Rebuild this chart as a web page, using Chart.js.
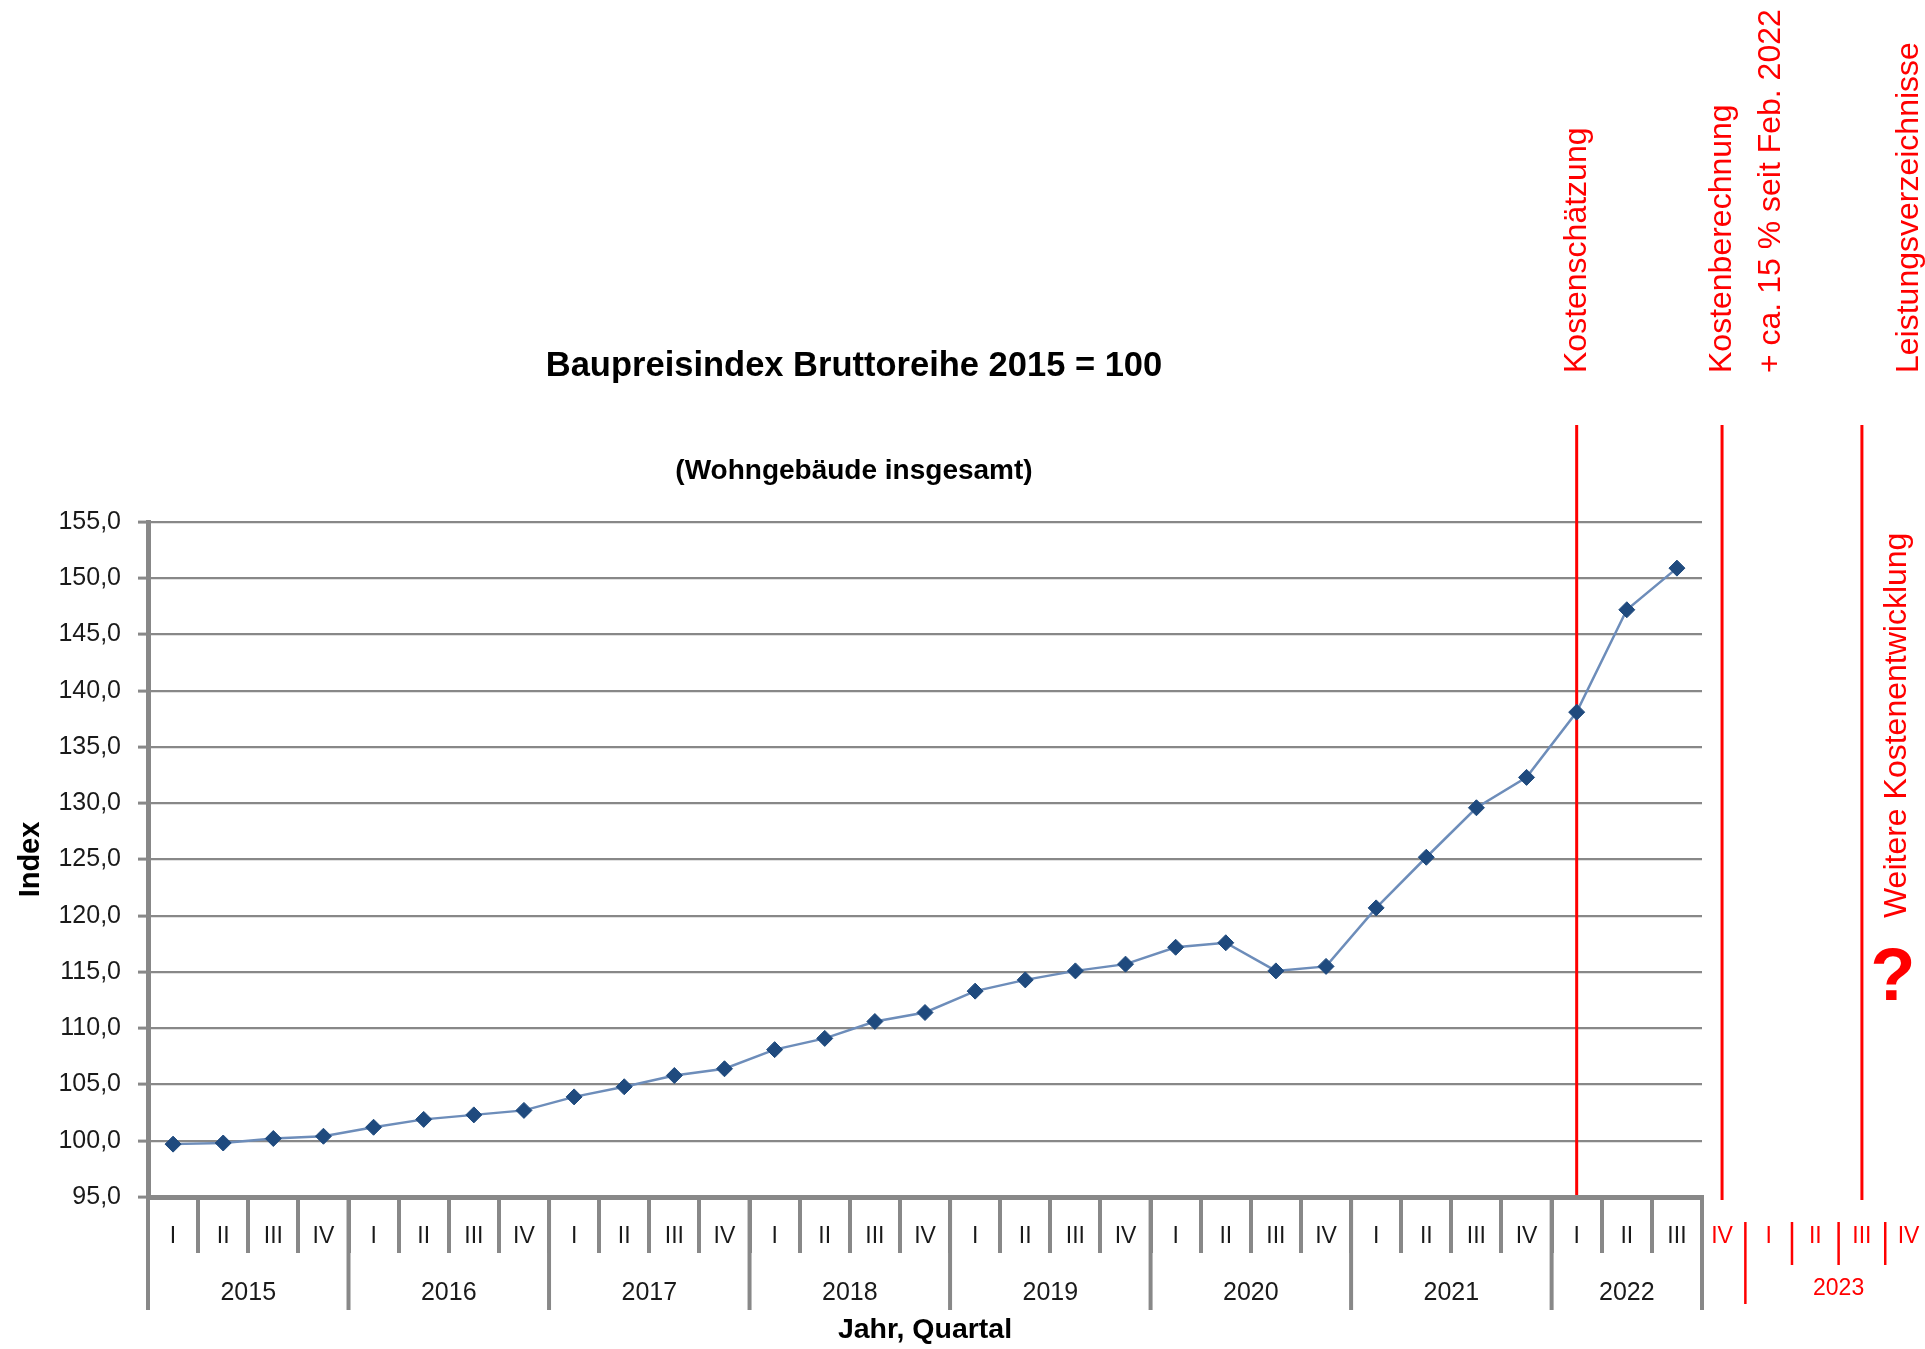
<!DOCTYPE html>
<html>
<head>
<meta charset="utf-8">
<script src="https://cdn.jsdelivr.net/npm/chart.js@4.4.1/dist/chart.umd.min.js"></script>
<style>
  html, body { margin: 0; padding: 0; background: #ffffff; }
  #wrap { width: 1925px; height: 1349px; position: relative; }
</style>
</head>
<body>
<div id="wrap"><canvas id="c"></canvas></div>
<script>
// ---------- data ----------
const quarterLabels = [
  'I','II','III','IV', 'I','II','III','IV', 'I','II','III','IV', 'I','II','III','IV',
  'I','II','III','IV', 'I','II','III','IV', 'I','II','III','IV', 'I','II','III'
];
const yearLabels = ['2015','2016','2017','2018','2019','2020','2021','2022'];
const quartersPerYear = [4, 4, 4, 4, 4, 4, 4, 3];
const indexValues = [
  99.7, 99.8, 100.2, 100.4,
  101.2, 101.9, 102.3, 102.7,
  103.9, 104.8, 105.8, 106.4,
  108.1, 109.1, 110.6, 111.4,
  113.3, 114.3, 115.1, 115.7,
  117.2, 117.6, 115.1, 115.5,
  120.7, 125.2, 129.6, 132.3,
  138.1, 147.2, 150.9
];
const yTickValues = [95, 100, 105, 110, 115, 120, 125, 130, 135, 140, 145, 150, 155];
const forecastQuarterLabels = ['IV', 'I', 'II', 'III', 'IV'];
const forecastYearLabel = '2023';
const titleText = 'Baupreisindex Bruttoreihe 2015 = 100';
const subtitleText = '(Wohngebäude insgesamt)';
const milestoneTexts = ['Kostenschätzung', 'Kostenberechnung', '+ ca. 15 % seit Feb. 2022', 'Leistungsverzeichnisse'];
const outlookText = 'Weitere Kostenentwicklung';

// ---------- styling ----------
const GREY = '#888888';
const RED = '#ff0000';
const TXT = '#1a1a1a';
const FONT = "'Liberation Sans', Arial, sans-serif";

const fmt = v => v.toFixed(1).replace('.', ',');

// forecast slots (2022 IV .. 2023 IV) are drawn a bit narrower than the real quarters
const FC_START = 30.9, FC_STEP = 0.93;
const fcPos = k => FC_START + FC_STEP * k;

const decorPlugin = {
  id: 'decor',
  beforeDatasetsDraw(chart) {
    const ctx = chart.ctx, x = chart.scales.x, y = chart.scales.y;
    const ca = chart.chartArea;
    const lineTop = ca.top - 97;
    const axisY = y.getPixelForValue(95);
    ctx.save();
    ctx.strokeStyle = RED;
    ctx.lineWidth = 3;
    [28, fcPos(0), fcPos(3)].forEach((v, i) => {
      const px = x.getPixelForValue(v);
      ctx.beginPath();
      ctx.moveTo(px, lineTop);
      ctx.lineTo(px, axisY + (i === 0 ? -2 : 3));
      ctx.stroke();
    });
    ctx.restore();
  },
  afterDraw(chart) {
    const ctx = chart.ctx, x = chart.scales.x, y = chart.scales.y;
    const ca = chart.chartArea;
    const axisY = y.getPixelForValue(95);
    ctx.save();

    // year separators and year labels
    ctx.strokeStyle = GREY;
    ctx.lineWidth = 4;
    let b = -0.5;
    const bounds = [b];
    quartersPerYear.forEach(n => { b += n; bounds.push(b); });
    bounds.forEach(v => {
      const px = x.getPixelForValue(v);
      ctx.beginPath();
      ctx.moveTo(px, axisY + 2);
      ctx.lineTo(px, axisY + 113);
      ctx.stroke();
    });
    ctx.fillStyle = TXT;
    ctx.font = '25px ' + FONT;
    ctx.textAlign = 'center';
    ctx.textBaseline = 'middle';
    yearLabels.forEach((lab, i) => {
      const mid = (bounds[i] + bounds[i + 1]) / 2;
      ctx.fillText(lab, x.getPixelForValue(mid), axisY + 96);
    });

    // forecast quarter labels (red)
    ctx.fillStyle = RED;
    ctx.strokeStyle = RED;
    ctx.font = '23px ' + FONT;
    forecastQuarterLabels.forEach((lab, k) => {
      ctx.fillText(lab, x.getPixelForValue(fcPos(k)), axisY + 40);
    });
    ctx.lineWidth = 2.5;
    for (let k = 0; k < 4; k++) {
      const px = x.getPixelForValue(fcPos(k + 0.5));
      ctx.beginPath();
      ctx.moveTo(px, axisY + 25);
      ctx.lineTo(px, axisY + (k === 0 ? 107 : 68));
      ctx.stroke();
    }
    ctx.font = '23px ' + FONT;
    ctx.fillText(forecastYearLabel, x.getPixelForValue(fcPos(2.5)), axisY + 92);

    // rotated milestone texts
    const textBottom = ca.top - 149;
    const rot = (txt, px, py, font) => {
      ctx.save();
      ctx.translate(px, py);
      ctx.rotate(-Math.PI / 2);
      ctx.font = font;
      ctx.textAlign = 'left';
      ctx.textBaseline = 'middle';
      ctx.fillText(txt, 0, 0);
      ctx.restore();
    };
    const red32 = '32px ' + FONT;
    const p1 = x.getPixelForValue(28), p2 = x.getPixelForValue(fcPos(0)), p3 = x.getPixelForValue(fcPos(3));
    rot(milestoneTexts[0], p1, textBottom, red32);
    rot(milestoneTexts[1], p2, textBottom, red32);
    rot(milestoneTexts[2], p2 + 49, textBottom, red32);
    rot(milestoneTexts[3], p3 + 47, textBottom, red32);
    rot(outlookText, p3 + 35, ca.top + 396, red32);
    ctx.font = 'bold 74px ' + FONT;
    ctx.textAlign = 'center';
    ctx.textBaseline = 'alphabetic';
    ctx.fillText('?', p3 + 31, ca.top + 478);

    // titles
    ctx.fillStyle = '#000';
    ctx.textAlign = 'center';
    ctx.textBaseline = 'middle';
    ctx.font = 'bold 34.5px ' + FONT;
    ctx.fillText(titleText, 854, ca.top - 156);
    ctx.font = 'bold 28px ' + FONT;
    ctx.fillText(subtitleText, 854, ca.top - 51);
    ctx.restore();
  }
};

new Chart(document.getElementById('c'), {
  type: 'line',
  data: {
    labels: quarterLabels,
    datasets: [{
      data: indexValues,
      borderColor: '#6d8dba',
      borderWidth: 2.5,
      tension: 0,
      pointStyle: 'rectRot',
      pointRadius: 8,
      pointBackgroundColor: '#1f4a7e',
      pointBorderColor: '#1f4a7e',
      pointBorderWidth: 1,
      clip: false
    }]
  },
  options: {
    responsive: true,
    maintainAspectRatio: false,
    animation: false,
    layout: { padding: { top: 522, right: 223, bottom: 0, left: 0 } },
    plugins: { legend: { display: false }, tooltip: { enabled: false }, title: { display: false } },
    scales: {
      x: {
        type: 'category',
        offset: true,
        afterFit(s) { s.height = 152; },
        grid: { offset: true, drawOnChartArea: false, tickLength: 56, color: GREY, lineWidth: 4 },
        border: { color: GREY, width: 5 },
        ticks: { autoSkip: false, maxRotation: 0, minRotation: 0, padding: -30, color: TXT, font: { family: FONT, size: 23 } },
        title: { display: true, text: 'Jahr, Quartal', color: '#000', font: { family: FONT, size: 28.5, weight: 'bold' }, padding: { top: 0, bottom: 2 } }
      },
      y: {
        type: 'linear',
        min: 95,
        max: 155,
        afterFit(s) { s.width = 148; },
        afterBuildTicks(s) { s.ticks = yTickValues.map(v => ({ value: v })); },
        grid: { color: GREY, lineWidth: 2.2, tickLength: 10, tickColor: GREY, tickWidth: 3 },
        border: { color: GREY, width: 5 },
        ticks: { padding: 17, color: TXT, font: { family: FONT, size: 25 }, callback: v => fmt(v) },
        title: { display: true, text: 'Index', color: '#000', font: { family: FONT, size: 29, weight: 'bold' }, padding: { top: 14, bottom: 0 } }
      }
    }
  },
  plugins: [decorPlugin]
});
</script>
</body>
</html>
